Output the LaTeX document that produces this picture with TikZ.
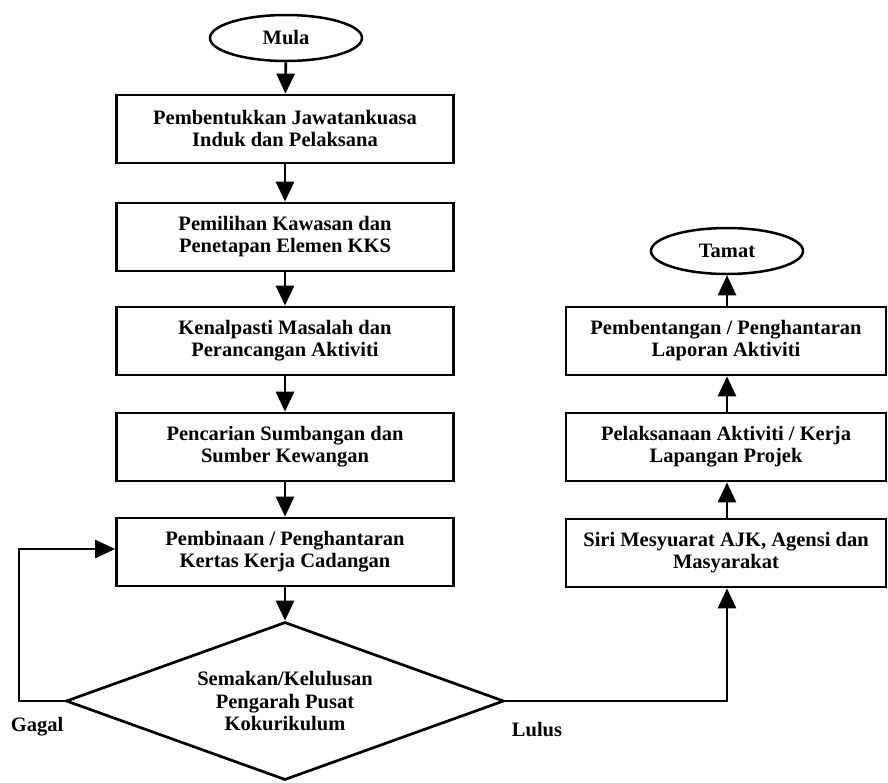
\documentclass[tikz,border=0pt]{standalone}
\usepackage{fontspec}
\setmainfont{Liberation Serif}
\usetikzlibrary{shapes.geometric,arrows.meta}
\begin{document}
\begin{tikzpicture}[x=1pt,y=-1pt,
  every node/.style={font=\bfseries\fontsize{20.5}{22}\selectfont, align=center},
  box/.style={draw, line width=2.7pt, minimum width=337pt, minimum height=68pt, inner sep=2pt},
  rbox/.style={draw, line width=2.7pt, minimum width=320pt, minimum height=68pt, inner sep=2pt},
  term/.style={draw, ellipse, line width=2.5pt, minimum width=152pt, minimum height=46pt, inner sep=0pt},
  decision/.style={draw, diamond, line width=2.7pt, minimum width=438pt, minimum height=158pt, aspect=2.77, inner sep=0pt},
  lbl/.style={font=\bfseries\fontsize{20.5}{22}\selectfont},
  arr/.style={line width=2.7pt, -{Triangle[width=18pt,length=20pt]}},
]
\useasboundingbox[fill=white] (0,0) rectangle (888,782);
% left column
\node[term] (mula) at (286,38) {Mula};
\node[box] (b1) at (285,129) {Pembentukkan Jawatankuasa\\Induk dan Pelaksana};
\node[box] (b2) at (285,237) {Pemilihan Kawasan dan\\Penetapan Elemen KKS};
\node[box] (b3) at (285,341) {Kenalpasti Masalah dan\\Perancangan Aktiviti};
\node[box] (b4) at (285,447) {Pencarian Sumbangan dan\\Sumber Kewangan};
\node[box] (b5) at (285,552) {Pembinaan / Penghantaran\\Kertas Kerja Cadangan};
\node[decision] (d) at (285,701) {Semakan/Kelulusan\\Pengarah Pusat\\Kokurikulum};
% right column
\node[term] (tamat) at (727,251) {Tamat};
\node[rbox] (r3) at (726,341) {Pembentangan / Penghantaran\\Laporan Aktiviti};
\node[rbox] (r2) at (726,447) {Pelaksanaan Aktiviti / Kerja\\Lapangan Projek};
\node[rbox] (r1) at (726,553) {Siri Mesyuarat AJK, Agensi dan\\Masyarakat};
% labels
\node[lbl] (gagal) at (37,727) {Gagal};
\node[lbl] (lulus) at (537,729) {Lulus};
\coordinate (fbl) at (19,701);
\coordinate (fbt) at (19,549);
\coordinate (lr) at (727,701);
% connectors
\draw[arr] (mula) -- (b1);
\draw[arr] (b1) -- (b2);
\draw[arr] (b2) -- (b3);
\draw[arr] (b3) -- (b4);
\draw[arr] (b4) -- (b5);
\draw[arr] (b5) -- (d);
\draw[arr] (d.west) -- (fbl) -- (fbt) -- (fbt -| b5.west);
\draw[arr] (d.east) -- (lr) -- (lr |- r1.south);
\draw[arr] (r1.north -| tamat) -- (r2.south -| tamat);
\draw[arr] (r2.north -| tamat) -- (r3.south -| tamat);
\draw[arr] (r3.north -| tamat) -- (tamat);
\end{tikzpicture}
\end{document}
